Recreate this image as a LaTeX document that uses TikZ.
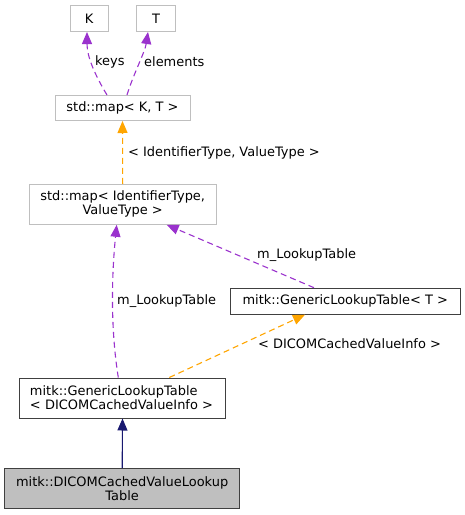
\documentclass[tikz,border=0pt]{standalone}
\usepackage{fontspec}
\setmainfont{DejaVu Sans}
\usetikzlibrary{arrows.meta}
\definecolor{edgepurple}{HTML}{9A32CD}
\definecolor{edgeorange}{HTML}{FFA500}
\definecolor{edgenavy}{HTML}{191970}
\definecolor{boxgray}{HTML}{BFBFBF}
\definecolor{boxdark}{HTML}{404040}

\begin{document}
\begin{tikzpicture}[x=1pt, y=-1pt,
  every node/.style={font=\fontsize{12.95}{13.8}\selectfont, inner sep=2pt},
  extbox/.style={draw=boxgray, line width=1pt, align=center},
  classbox/.style={draw=boxdark, line width=1pt, align=center},
  mainbox/.style={classbox, fill=boxgray},
  edgelabel/.style={anchor=west, inner sep=0pt},
  uses/.style={edgepurple, line width=1.1pt, dash pattern=on 6pt off 4pt,
    -{Triangle[length=12pt,width=10pt]}},
  templ/.style={edgeorange, line width=1.1pt, dash pattern=on 6pt off 4pt,
    -{Triangle[length=12pt,width=10pt]}},
  inherits/.style={edgenavy, line width=1.1pt, -{Triangle[length=12pt,width=10pt]}},
]
  \useasboundingbox (0,0) rectangle (465,515);

  \node[extbox, minimum width=38pt, minimum height=26pt] (K) at (89,18.5) {K};
  \node[extbox, minimum width=39pt, minimum height=26pt] (T) at (156,18.5) {T};
  \node[extbox, minimum width=135pt, minimum height=25pt] (mapKT) at (122.5,108) {std::map< K, T >};
  \node[extbox, minimum width=187pt, minimum height=40pt] (mapIV) at (122.7,204.3)
    {std::map< IdentifierType,\\ValueType >};
  \node[classbox, minimum width=230pt, minimum height=26pt] (glT) at (345.3,301.2)
    {mitk::GenericLookupTable< T >};
  \node[classbox, align=left, text width=185pt, minimum width=206pt, minimum height=40pt] (glD)
    at (122.5,398) {mitk::GenericLookupTable\\< DICOMCachedValueInfo >};
  \node[mainbox, minimum width=235pt, minimum height=40pt] (dcv) at (122.2,488.5)
    {mitk::DICOMCachedValueLookup\\Table};

  % member relations
  \draw[uses] ([xshift=-15.5pt]mapKT.north) .. controls +(-12,-20) and +(0,25) .. ([xshift=-2pt]K.south);
  \draw[uses] ([xshift=4.5pt]mapKT.north) .. controls +(6,-20) and +(-3,20) .. ([xshift=-8pt]T.south);
  \draw[uses] ([xshift=-4.2pt]glD.north) .. controls +(-8,-50) and +(-5,50) .. ([xshift=-6pt]mapIV.south);
  \draw[uses] ([xshift=-31.3pt]glT.north) -- ([xshift=44pt]mapIV.south);

  % template instances
  \draw[templ] (mapIV.north) -- (mapKT.south);
  \draw[templ] ([xshift=46.8pt]glD.north) -- ([xshift=-40.3pt]glT.south);

  % inheritance
  \draw[inherits] (dcv.north) -- (glD.south);

  \node[edgelabel] (lkeys) at (95,62) {keys};
  \node[edgelabel] (lelem) at (144,62) {elements};
  \node[edgelabel] (lmapIV) at (128,153) {< IdentifierType, ValueType >};
  \node[edgelabel] (llookA) at (117,300.7) {m\_LookupTable};
  \node[edgelabel] (llookB) at (257,255) {m\_LookupTable};
  \node[edgelabel] (lglD) at (258,344) {< DICOMCachedValueInfo >};
\end{tikzpicture}
\end{document}
